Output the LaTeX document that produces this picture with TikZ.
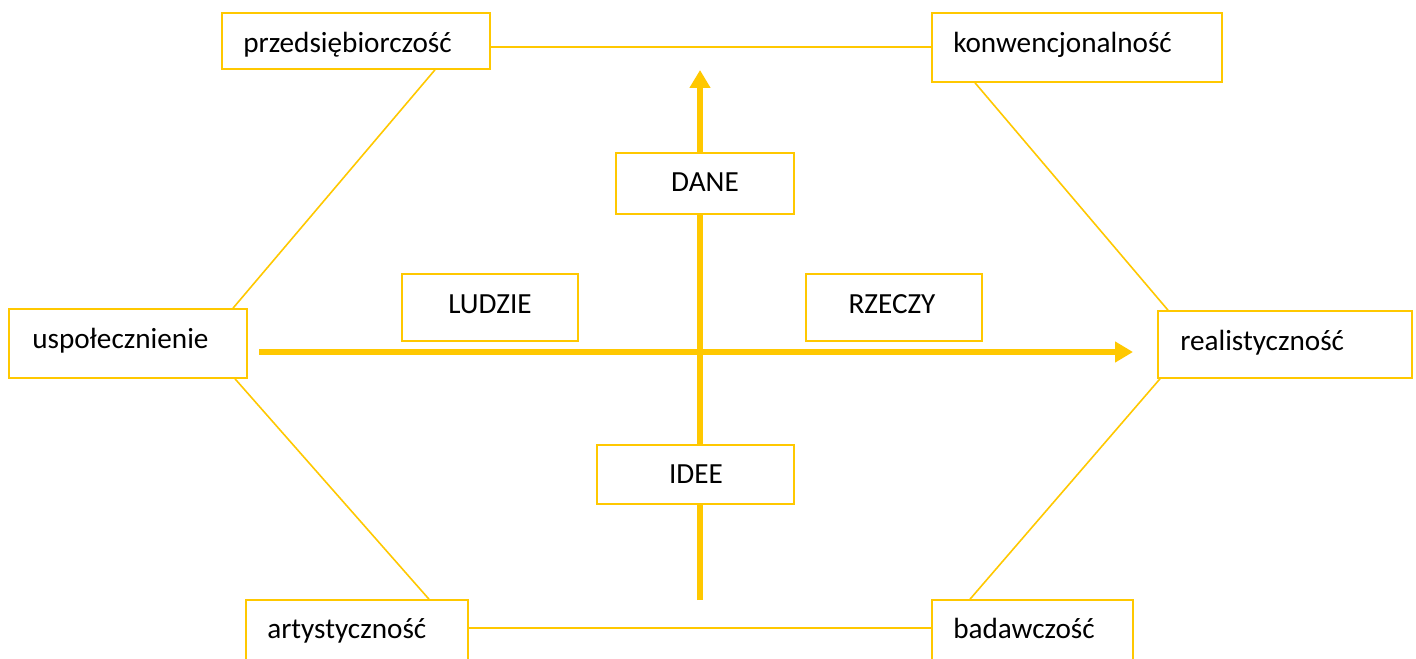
\documentclass[tikz,border=0pt]{standalone}
\usepackage{fontspec}
\setmainfont{Carlito}
\usetikzlibrary{arrows.meta}
\definecolor{gold}{RGB}{255,200,0}
\begin{document}
\begin{tikzpicture}[x=0.75pt,y=-0.75pt,
  box/.style={draw=gold,line width=1.2pt,fill=white,inner sep=0pt,rectangle},
  lbl/.style={font=\fontsize{21.9}{26}\selectfont,inner sep=0pt,text=black},
  conn/.style={draw=gold,line width=1.2pt},
  axis/.style={draw=gold,line width=4.5pt,-{Triangle[length=13.5pt,width=15pt]}}]
\useasboundingbox (0,0) rectangle (1416,659);
\clip (0,0) rectangle (1416,659);
% axes
\coordinate (vs) at (700,600);
\coordinate (ve) at (700,70);
\coordinate (hs) at (259,352);
\coordinate (he) at (1133,352);
\draw[axis] (vs) -- (ve);
\draw[axis] (hs) -- (he);
% boxes
\node[box,minimum width=201pt,minimum height=42pt] (P) at (356,41) {};
\node[box,minimum width=217.5pt,minimum height=51.75pt] (K) at (1077,47.5) {};
\node[box,minimum width=133.5pt,minimum height=45.75pt] (D) at (705,183.5) {};
\node[box,minimum width=132pt,minimum height=50.25pt] (L) at (490,307.5) {};
\node[box,minimum width=132pt,minimum height=50.25pt] (Z) at (894,307.5) {};
\node[box,minimum width=178.5pt,minimum height=51.75pt] (U) at (128,343.5) {};
\node[box,minimum width=190.5pt,minimum height=50.25pt] (R) at (1285,344.5) {};
\node[box,minimum width=147.75pt,minimum height=44.25pt] (I) at (695.5,474.5) {};
\node[box,minimum width=166.5pt,minimum height=52.5pt] (A) at (357,635) {};
\node[box,minimum width=150.75pt,minimum height=52.5pt] (B) at (1032.5,635) {};
% texts
\node[lbl,anchor=base west] (tP) at (243,53) {przedsiębiorczość};
\node[lbl,anchor=base west] (tK) at (953,53) {konwencjonalność};
\node[lbl,anchor=base] (tD) at (705,192) {DANE};
\node[lbl,anchor=base] (tL) at (490,313) {LUDZIE};
\node[lbl,anchor=base] (tZ) at (892,313) {RZECZY};
\node[lbl,anchor=base west] (tU) at (32,348) {uspołecznienie};
\node[lbl,anchor=base west] (tR) at (1180,350) {realistyczność};
\node[lbl,anchor=base] (tI) at (696,483) {IDEE};
\node[lbl,anchor=base west] (tA) at (267,638) {artystyczność};
\node[lbl,anchor=base west] (tB) at (953,638) {badawczość};
% connectors
\draw[conn] ([yshift=-4.5pt]P.east) -- ([yshift=0.375pt]K.west);
\draw[conn] ([xshift=59.25pt]P.south) -- ([xshift=78.75pt]U.north);
\draw[conn] ([xshift=-76.5pt]K.south) -- ([xshift=-87.75pt]R.north);
\draw[conn] ([xshift=80.25pt]U.south) -- ([xshift=54pt]A.north);
\draw[conn] ([xshift=-93.75pt]R.south) -- ([xshift=-46.875pt]B.north);
\draw[conn] ([yshift=5.25pt]A.east) -- ([yshift=5.25pt]B.west);
\end{tikzpicture}
\end{document}
